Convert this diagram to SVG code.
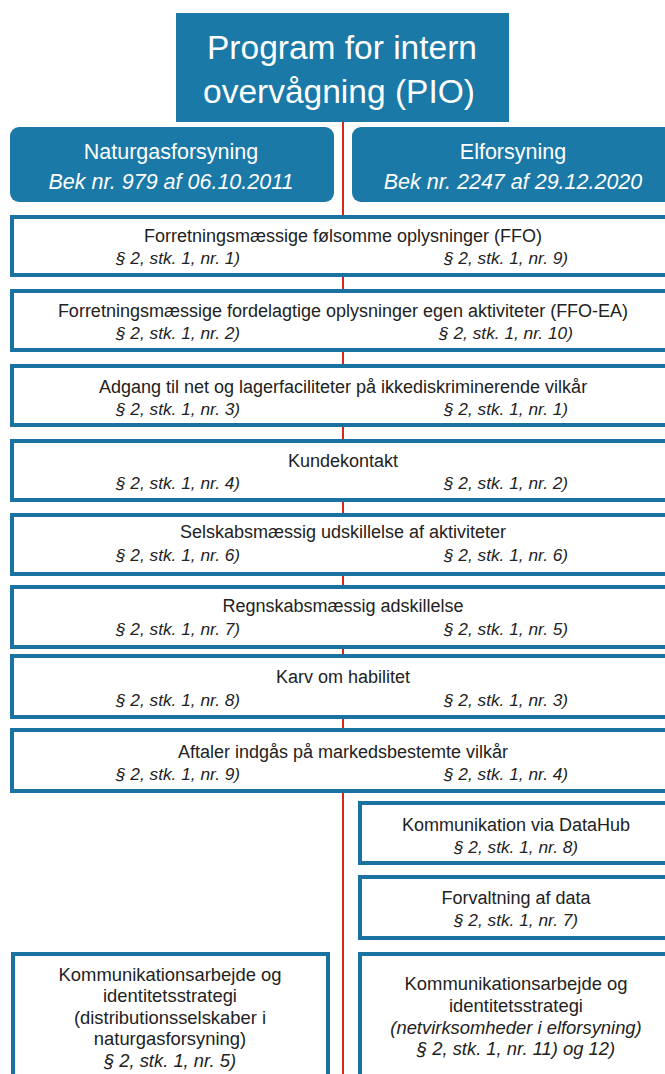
<svg xmlns="http://www.w3.org/2000/svg" width="665" height="1074" viewBox="0 0 665 1074">
<style>
.hdr{fill:#1a79a7}
.box{fill:#fff;stroke:#1a72a0;stroke-width:4}
.t{font-family:"Liberation Sans",Arial,sans-serif;font-size:18px;fill:#222;text-anchor:middle;dominant-baseline:central}
.s{font-family:"Liberation Sans",Arial,sans-serif;font-size:17.3px;font-style:italic;fill:#222;text-anchor:middle;dominant-baseline:central}
.b{font-size:18.4px}
.w{font-family:"Liberation Sans",Arial,sans-serif;fill:#fff;text-anchor:middle;dominant-baseline:central}
.conn{stroke:#d9261c;stroke-width:2;fill:none}
</style>
<rect width="665" height="1074" fill="#fff"/>
<g id="connectors">
<line class="conn" x1="343" y1="120" x2="343" y2="1074"/>
</g>
<g id="pio">
<rect class="hdr" x="176" y="13" width="333" height="109"/>
<text class="w" x="342" y="47" font-size="33.5">Program for intern</text>
<text class="w" x="339" y="91" font-size="33.5">overvågning (PIO)</text>
</g>
<g id="naturgas">
<rect class="hdr" x="10" y="127" width="324" height="75" rx="9"/>
<text class="w" x="171" y="152" font-size="21.5">Naturgasforsyning</text>
<text class="w" x="171" y="182" font-size="21.5" font-style="italic">Bek nr. 979 af 06.10.2011</text>
</g>
<g id="elforsyning">
<rect class="hdr" x="352" y="127" width="330" height="75" rx="9"/>
<text class="w" x="513" y="152" font-size="21.5">Elforsyning</text>
<text class="w" x="513" y="182" font-size="21.5" font-style="italic">Bek nr. 2247 af 29.12.2020</text>
</g>
<g id="row1">
<rect class="box" x="12" y="217" width="670" height="58"/>
<text class="t" x="343" y="236">Forretningsmæssige følsomme oplysninger (FFO)</text>
<text class="s" x="178" y="258">§ 2, stk. 1, nr. 1)</text>
<text class="s" x="506" y="258">§ 2, stk. 1, nr. 9)</text>
</g>
<g id="row2">
<rect class="box" x="12" y="291" width="670" height="59"/>
<text class="t" x="343" y="311">Forretningsmæssige fordelagtige oplysninger egen aktiviteter (FFO-EA)</text>
<text class="s" x="178" y="333">§ 2, stk. 1, nr. 2)</text>
<text class="s" x="506" y="333">§ 2, stk. 1, nr. 10)</text>
</g>
<g id="row3">
<rect class="box" x="12" y="366" width="670" height="59"/>
<text class="t" x="343" y="387">Adgang til net og lagerfaciliteter på ikkediskriminerende vilkår</text>
<text class="s" x="178" y="409">§ 2, stk. 1, nr. 3)</text>
<text class="s" x="506" y="409">§ 2, stk. 1, nr. 1)</text>
</g>
<g id="row4">
<rect class="box" x="12" y="441" width="670" height="59"/>
<text class="t" x="343" y="461">Kundekontakt</text>
<text class="s" x="178" y="483">§ 2, stk. 1, nr. 4)</text>
<text class="s" x="506" y="483">§ 2, stk. 1, nr. 2)</text>
</g>
<g id="row5">
<rect class="box" x="12" y="515" width="670" height="59"/>
<text class="t" x="343" y="532">Selskabsmæssig udskillelse af aktiviteter</text>
<text class="s" x="178" y="555">§ 2, stk. 1, nr. 6)</text>
<text class="s" x="506" y="555">§ 2, stk. 1, nr. 6)</text>
</g>
<g id="row6">
<rect class="box" x="12" y="587" width="670" height="60"/>
<text class="t" x="343" y="606">Regnskabsmæssig adskillelse</text>
<text class="s" x="178" y="629">§ 2, stk. 1, nr. 7)</text>
<text class="s" x="506" y="629">§ 2, stk. 1, nr. 5)</text>
</g>
<g id="row7">
<rect class="box" x="12" y="656" width="670" height="61"/>
<text class="t" x="343" y="677">Karv om habilitet</text>
<text class="s" x="178" y="700">§ 2, stk. 1, nr. 8)</text>
<text class="s" x="506" y="700">§ 2, stk. 1, nr. 3)</text>
</g>
<g id="row8">
<rect class="box" x="12" y="730" width="670" height="61"/>
<text class="t" x="343" y="752">Aftaler indgås på markedsbestemte vilkår</text>
<text class="s" x="178" y="774">§ 2, stk. 1, nr. 9)</text>
<text class="s" x="506" y="774">§ 2, stk. 1, nr. 4)</text>
</g>
<g id="datahub">
<rect class="box" x="360" y="803" width="320" height="60"/>
<text class="t" x="516" y="825">Kommunikation via DataHub</text>
<text class="s" x="516" y="847">§ 2, stk. 1, nr. 8)</text>
</g>
<g id="forvaltning">
<rect class="box" x="360" y="877" width="320" height="61"/>
<text class="t" x="516" y="898">Forvaltning af data</text>
<text class="s" x="516" y="920">§ 2, stk. 1, nr. 7)</text>
</g>
<g id="komm-gas">
<rect class="box" x="13" y="954" width="315" height="130"/>
<text class="t b" x="170" y="974">Kommunikationsarbejde og</text>
<text class="t b" x="170" y="995">identitetsstrategi</text>
<text class="t b" x="170" y="1017">(distributionsselskaber i</text>
<text class="t b" x="170" y="1038">naturgasforsyning)</text>
<text class="s b" x="170" y="1060">§ 2, stk. 1, nr. 5)</text>
</g>
<g id="komm-el">
<rect class="box" x="360" y="954" width="320" height="130"/>
<text class="t b" x="516" y="983">Kommunikationsarbejde og</text>
<text class="t b" x="516" y="1005">identitetsstrategi</text>
<text class="s b" x="516" y="1027">(netvirksomheder i elforsyning)</text>
<text class="s b" x="516" y="1048">§ 2, stk. 1, nr. 11) og 12)</text>
</g>
</svg>
